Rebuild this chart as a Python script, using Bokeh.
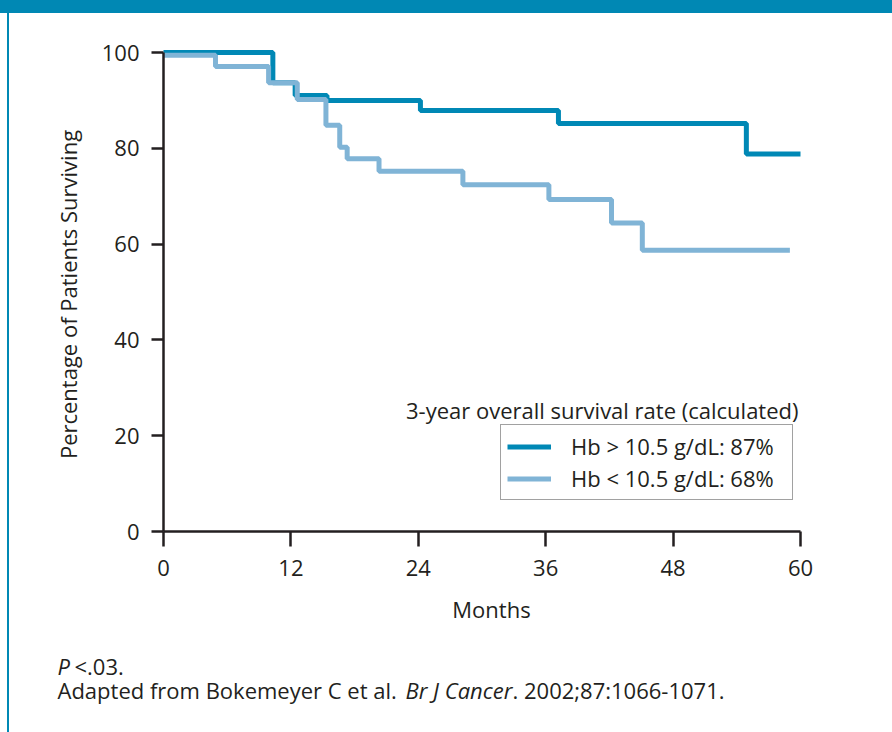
import math
from bokeh.plotting import figure
from bokeh.models import Legend, LegendItem, Label, FixedTicker, Range1d
from bokeh.embed import file_html
from bokeh.resources import INLINE

# Kaplan-Meier step data (months, % surviving)
months_hi = [0, 10.3, 12.4, 15.4, 24.2, 37.2, 54.9, 60]
surv_hi = [100, 93.7, 91.0, 90.0, 87.9, 85.2, 78.8, 78.8]
months_lo = [0, 4.9, 9.9, 12.6, 15.3, 16.6, 17.3, 20.3, 28.2, 36.3, 42.2, 45.1, 59.0]
surv_lo = [99.4, 97.1, 93.7, 90.2, 84.8, 80.2, 77.8, 75.2, 72.4, 69.3, 64.4, 58.7, 58.7]

x_ticks = [0, 12, 24, 36, 48, 60]
y_ticks = [0, 20, 40, 60, 80, 100]
label_hi = "Hb > 10.5 g/dL: 87%"
label_lo = "Hb < 10.5 g/dL: 68%"
legend_title = "3-year overall survival rate (calculated)"
x_title = "Months"
y_title = "Percentage of Patients Surviving"

DARK = "#0088B5"
LIGHT = "#80B4D6"
INK = "#231F20"
FONT = "Open Sans"
FS = "22px"

# page geometry (pixels): plot area box inside an 892x732 canvas
W, H = 892, 732
X0, X1, Y0, Y1 = 163, 800, 531, 52      # pixel of x=0, x=60, y=0, y=100
xmin, xmax, ymin, ymax = 0, 60, 0, 100
kx = (xmax - xmin) / (X1 - X0)
ky = (ymax - ymin) / (Y0 - Y1)
x_range = Range1d(xmin - X0 * kx, xmax + (W - X1) * kx)
y_range = Range1d(ymin - (H - Y0) * ky, ymax + Y1 * ky)

p = figure(width=W, height=H, x_range=x_range, y_range=y_range,
           output_backend="svg", toolbar_location=None, min_border=0)
p.title.visible = False
p.styles = {
    "background": "linear-gradient(#0088B4,#0088B4) 0 0 / 100% 13px no-repeat, "
                  "linear-gradient(#0088B4,#0088B4) 7px 0 / 2px 100% no-repeat, #ffffff",
}
p.border_fill_color = None
p.background_fill_color = None
p.outline_line_color = None
p.grid.visible = False

r_hi = p.step(months_hi, surv_hi, mode="after", line_color=DARK, line_width=5)
r_lo = p.step(months_lo, surv_lo, mode="after", line_color=LIGHT, line_width=5)

for ax in (p.xaxis[0], p.yaxis[0]):
    ax.axis_line_color = INK
    ax.axis_line_width = 2.5
    ax.major_tick_line_color = INK
    ax.major_tick_line_width = 2.5
    ax.major_tick_in = 0
    ax.minor_tick_line_color = None
    ax.major_label_text_font = FONT
    ax.major_label_text_font_size = FS
    ax.major_label_text_color = INK

p.xaxis.ticker = FixedTicker(ticks=x_ticks)
p.yaxis.ticker = FixedTicker(ticks=y_ticks)
p.xaxis.fixed_location = 0
p.yaxis.fixed_location = 0
p.xaxis.bounds = (xmin, xmax)
p.yaxis.bounds = (ymin, ymax)
p.xaxis.major_tick_out = 15
p.yaxis.major_tick_out = 12
p.xaxis.major_label_standoff = 13
p.yaxis.major_label_standoff = 12

legend = Legend(items=[LegendItem(label=label_hi, renderers=[r_hi]),
                       LegendItem(label=label_lo, renderers=[r_lo])],
                location=(500, H - 500))
legend.label_text_font = FONT
legend.label_text_font_size = FS
legend.label_text_color = INK
legend.glyph_width = 44
legend.glyph_height = 27
legend.label_height = 27
legend.label_width = 215
legend.label_standoff = 20
legend.spacing = 2
legend.padding = 6
legend.margin = 0
legend.border_line_color = "#444444"
legend.border_line_width = 1.5
legend.background_fill_color = "white"
legend.background_fill_alpha = 1
p.add_layout(legend, "center")

# Text placed in screen pixels (origin bottom-left of canvas)
def lab(text, sx, sy, align="left", style="normal", baseline="alphabetic", angle=0):
    p.add_layout(Label(text=text, x=sx, y=H - sy, x_units="screen", y_units="screen",
                       text_font=FONT, text_font_size=FS, text_color=INK, angle=angle,
                       text_align=align, text_baseline=baseline, text_font_style=style))

lab(x_title, 491, 608, align="center")
lab(y_title, 67, 294, align="center", baseline="middle", angle=math.pi / 2)
lab(legend_title, 798, 409, align="right")
lab("P", 57, 665, style="italic")
lab("<.03.", 74, 665)
lab("Adapted from Bokemeyer C et al.", 57, 689)
lab("Br J Cancer", 405, 689, style="italic")
lab(". 2002;87:1066-1071.", 512, 689)

open("out.html", "w").write(file_html(p, INLINE))
